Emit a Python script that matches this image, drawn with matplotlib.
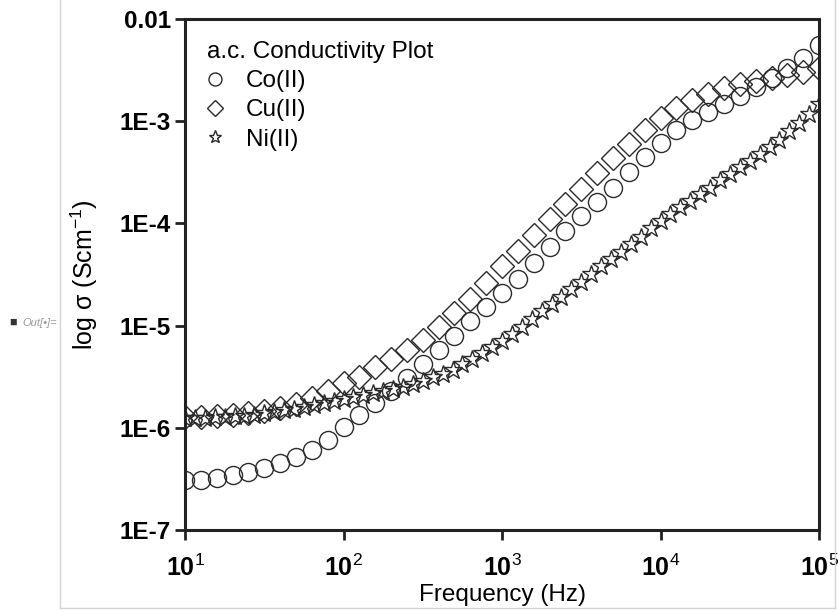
import matplotlib
matplotlib.use("Agg")
import matplotlib.pyplot as plt
from matplotlib.lines import Line2D
import numpy as np

plt.rcParams['font.family'] = ['Liberation Sans', 'DejaVu Sans']
plt.rcParams['mathtext.fontset'] = 'custom'
plt.rcParams['mathtext.rm'] = 'Liberation Sans'
plt.rcParams['mathtext.bf'] = 'Liberation Sans:bold'
plt.rcParams['mathtext.it'] = 'Liberation Sans:italic'

# log10 of frequency (Hz) for the Co and Cu runs
logf_10 = [1.0, 1.1, 1.2, 1.3, 1.4, 1.5, 1.6, 1.7, 1.8, 1.9,
           2.0, 2.1, 2.2, 2.3, 2.4, 2.5, 2.6, 2.7, 2.8, 2.9,
           3.0, 3.1, 3.2, 3.3, 3.4, 3.5, 3.6, 3.7, 3.8, 3.9,
           4.0, 4.1, 4.2, 4.3, 4.4, 4.5, 4.6, 4.7, 4.8, 4.9, 5.0]

# log10 sigma
co_log = [-6.51, -6.51, -6.49, -6.46, -6.43, -6.39, -6.34, -6.29, -6.22, -6.12,
          -5.99, -5.87, -5.76, -5.64, -5.51, -5.38, -5.24, -5.10, -4.96, -4.82,
          -4.68, -4.54, -4.39, -4.23, -4.07, -3.93, -3.79, -3.65, -3.50, -3.35,
          -3.21, -3.09, -2.99, -2.91, -2.83, -2.75, -2.67, -2.58, -2.48, -2.38, -2.25]

cu_log = [-5.89, -5.89, -5.88, -5.87, -5.86, -5.84, -5.81, -5.77, -5.71, -5.64,
          -5.56, -5.50, -5.41, -5.33, -5.24, -5.14, -5.01, -4.88, -4.74, -4.58,
          -4.42, -4.27, -4.11, -3.96, -3.81, -3.66, -3.51, -3.36, -3.22, -3.09,
          -2.97, -2.87, -2.79, -2.73, -2.68, -2.64, -2.61, -2.58, -2.55, -2.52, -2.48]

# Ni run has denser sampling
logf_16 = [1.0, 1.0625, 1.125, 1.1875, 1.25, 1.3125, 1.375, 1.4375,
           1.5, 1.5625, 1.625, 1.6875, 1.75, 1.8125, 1.875, 1.9375,
           2.0, 2.0625, 2.125, 2.1875, 2.25, 2.3125, 2.375, 2.4375,
           2.5, 2.5625, 2.625, 2.6875, 2.75, 2.8125, 2.875, 2.9375,
           3.0, 3.0625, 3.125, 3.1875, 3.25, 3.3125, 3.375, 3.4375,
           3.5, 3.5625, 3.625, 3.6875, 3.75, 3.8125, 3.875, 3.9375,
           4.0, 4.0625, 4.125, 4.1875, 4.25, 4.3125, 4.375, 4.4375,
           4.5, 4.5625, 4.625, 4.6875, 4.75, 4.8125, 4.875, 4.9375, 5.0]

ni_log = [-5.90, -5.90, -5.90, -5.89, -5.89, -5.88, -5.88, -5.87,
          -5.86, -5.85, -5.83, -5.82, -5.80, -5.78, -5.76, -5.74,
          -5.72, -5.70, -5.68, -5.66, -5.64, -5.62, -5.60, -5.57,
          -5.54, -5.50, -5.47, -5.43, -5.38, -5.33, -5.27, -5.21,
          -5.15, -5.08, -5.01, -4.94, -4.86, -4.79, -4.72, -4.64,
          -4.57, -4.50, -4.42, -4.35, -4.28, -4.20, -4.13, -4.05,
          -3.98, -3.91, -3.84, -3.78, -3.71, -3.65, -3.58, -3.52,
          -3.45, -3.39, -3.32, -3.25, -3.18, -3.10, -3.02, -2.93, -2.83]

ytick_vals = [1e-7, 1e-6, 1e-5, 1e-4, 1e-3, 1e-2]
ytick_labels = ['1E-7', '1E-6', '1E-5', '1E-4', '1E-3', '0.01']
xtick_vals = [1e1, 1e2, 1e3, 1e4, 1e5]
xtick_labels = [r'$\mathbf{10}^{1}$', r'$\mathbf{10}^{2}$', r'$\mathbf{10}^{3}$',
                r'$\mathbf{10}^{4}$', r'$\mathbf{10}^{5}$']

f10 = 10 ** np.array(logf_10)
f16 = 10 ** np.array(logf_16)

fig = plt.figure(figsize=(8.38, 6.12), dpi=100)
ax = fig.add_axes([0.2208, 0.134, 0.7566, 0.835])

ec = '#2a2a2a'
ax.plot(f10, 10 ** np.array(co_log), 'o', ms=13, mfc='none', mec=ec, mew=1.0, label='Co(II)')
ax.plot(f10, 10 ** np.array(cu_log), 'D', ms=12, mfc='none', mec=ec, mew=1.0, label='Cu(II)')
ax.plot(f16, 10 ** np.array(ni_log), '*', ms=13.5, mfc='none', mec=ec, mew=1.0, label='Ni(II)')

ax.set_xscale('log')
ax.set_yscale('log')
ax.set_xlim(1e1, 1e5)
ax.set_ylim(1e-7, 1e-2)
ax.set_xticks(xtick_vals)
ax.set_xticklabels(xtick_labels, fontsize=18)
ax.set_yticks(ytick_vals)
ax.set_yticklabels(ytick_labels, fontsize=17.5, fontweight='bold')
ax.minorticks_off()
ax.tick_params(direction='out', length=7, width=2, color='#222222')
ax.tick_params(axis='x', pad=11)
ax.tick_params(axis='y', pad=3)
for s in ax.spines.values():
    s.set_linewidth(2.2)
    s.set_color('#222222')

ax.set_xlabel('Frequency (Hz)', fontsize=17.5, labelpad=2)
ax.set_ylabel('log \u03c3 (Scm$^{-1}$)', fontsize=18, labelpad=14)

leg = ax.legend(title='a.c. Conductivity Plot', loc='upper left', frameon=False,
                fontsize=17.5, title_fontsize=17.5, handlelength=0.66, handletextpad=0.95,
                labelspacing=0.3, borderaxespad=0.5, borderpad=0.4, markerscale=0.72)
leg._legend_box.align = 'left'

# notebook cell decoration
fig.text(0.011, 0.473, '\u25a0', fontsize=9, color='#333333', va='center')
fig.text(0.027, 0.473, 'Out[\u2022]=', fontsize=8, color='#999999', style='italic', va='center')
fig.add_artist(Line2D([0.0716, 0.0716], [0.007, 1.0], color='#d4d4d4', lw=1))
fig.add_artist(Line2D([0.0716, 0.9964], [0.007, 0.007], color='#d4d4d4', lw=1))
fig.add_artist(Line2D([0.9964, 0.9964], [0.007, 1.0], color='#d4d4d4', lw=1))

fig.savefig('out.png', dpi=100)
